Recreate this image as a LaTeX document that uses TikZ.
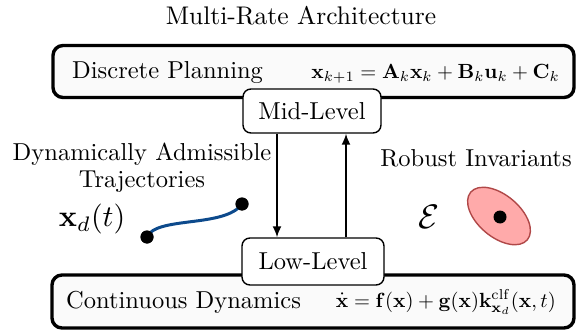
\documentclass[tikz,border=0pt]{standalone}
\usepackage{amsmath,amssymb,graphicx}
\usetikzlibrary{arrows.meta,calc}
\definecolor{boxfill}{HTML}{FAFAFA}
\definecolor{trajblue}{HTML}{0D4A8C}
\definecolor{ellfill}{HTML}{FFAAAA}
\definecolor{elledge}{HTML}{B04848}
\newcommand{\mytx}[1]{\scalebox{2.45}{#1}}
\newcommand{\myeq}[1]{\scalebox{2.05}{#1}}
\tikzset{
  bigbox/.style={draw, line width=3.4pt, rounded corners=10pt, fill=boxfill, inner sep=0pt},
  levelbox/.style={draw, line width=1.4pt, rounded corners=8pt, fill=white, inner sep=0pt},
  txt/.style={font=\normalsize, inner sep=0pt},
  arr/.style={line width=1.8pt, -{Latex[length=11pt,width=9pt]}},
  dot/.style={fill=black, circle, inner sep=0pt, minimum size=13pt}
}
\begin{document}
\begin{tikzpicture}[x=1pt,y=-1pt]
\useasboundingbox (0,0) rectangle (585,331);
% title
\node[txt] (title) at (301,16) {\scalebox{2.55}{Multi-Rate Architecture}};
% top box
\node[bigbox, minimum width=521pt, minimum height=52pt] (plan) at (313.5,71.5) {};
\node[txt, anchor=west] (plantxt) at (72,73) {\mytx{Discrete Planning}};
\node[txt, anchor=east] (planeq) at (560,74) {\myeq{$\mathbf{x}_{k+1} = \mathbf{A}_k\mathbf{x}_k + \mathbf{B}_k\mathbf{u}_k + \mathbf{C}_k$}};
% bottom box
\node[bigbox, minimum width=522pt, minimum height=53pt] (cont) at (313,301.5) {};
\node[txt, anchor=west] (conttxt) at (66,302) {\mytx{Continuous Dynamics}};
\node[txt, anchor=east] (conteq) at (556,302) {\myeq{$\dot{\mathbf{x}} = \mathbf{f}(\mathbf{x}) + \mathbf{g}(\mathbf{x})\mathbf{k}^{\mathrm{clf}}_{\mathbf{x}_d}(\mathbf{x},t)$}};
% level boxes
\node[levelbox, txt, minimum width=138pt, minimum height=44pt] (mid) at (312,111) {\mytx{Mid-Level}};
\node[levelbox, txt, minimum width=142pt, minimum height=47pt] (low) at (313,261.5) {\mytx{Low-Level}};
% arrows
\coordinate (dx) at (277,0);
\coordinate (ux) at (346,0);
\draw[arr] (mid.south -| dx) -- (low.north -| dx);
\draw[arr] (low.north -| ux) -- (mid.south -| ux);
% left: trajectories
\node[txt] (dyn) at (142,168) {\mytx{\begin{tabular}{@{}c@{}}Dynamically Admissible\\[-1pt]Trajectories\end{tabular}}};
\node[txt] (xd) at (92,219) {\scalebox{3.0}{$\mathbf{x}_d(t)$}};
\node[dot] (t0) at (147,237) {};
\node[dot] (t1) at (242,204) {};
\draw[trajblue, line width=3pt] (t0.center) .. controls (156,216) and (225,228) .. (t1.center);
\node[dot] at (147,237) {};
\node[dot] at (242,204) {};
% right: invariants
\node[txt] (rob) at (476,158) {\mytx{Robust Invariants}};
\node[txt] (calE) at (429,217) {\scalebox{3.4}{$\mathcal{E}$}};
\draw[elledge, fill=ellfill, line width=1.4pt, shift={(499,216)}, rotate=-40] (0,0) ellipse [x radius=37, y radius=21];
\node[dot] (center) at (500,217) {};
\end{tikzpicture}
\end{document}
